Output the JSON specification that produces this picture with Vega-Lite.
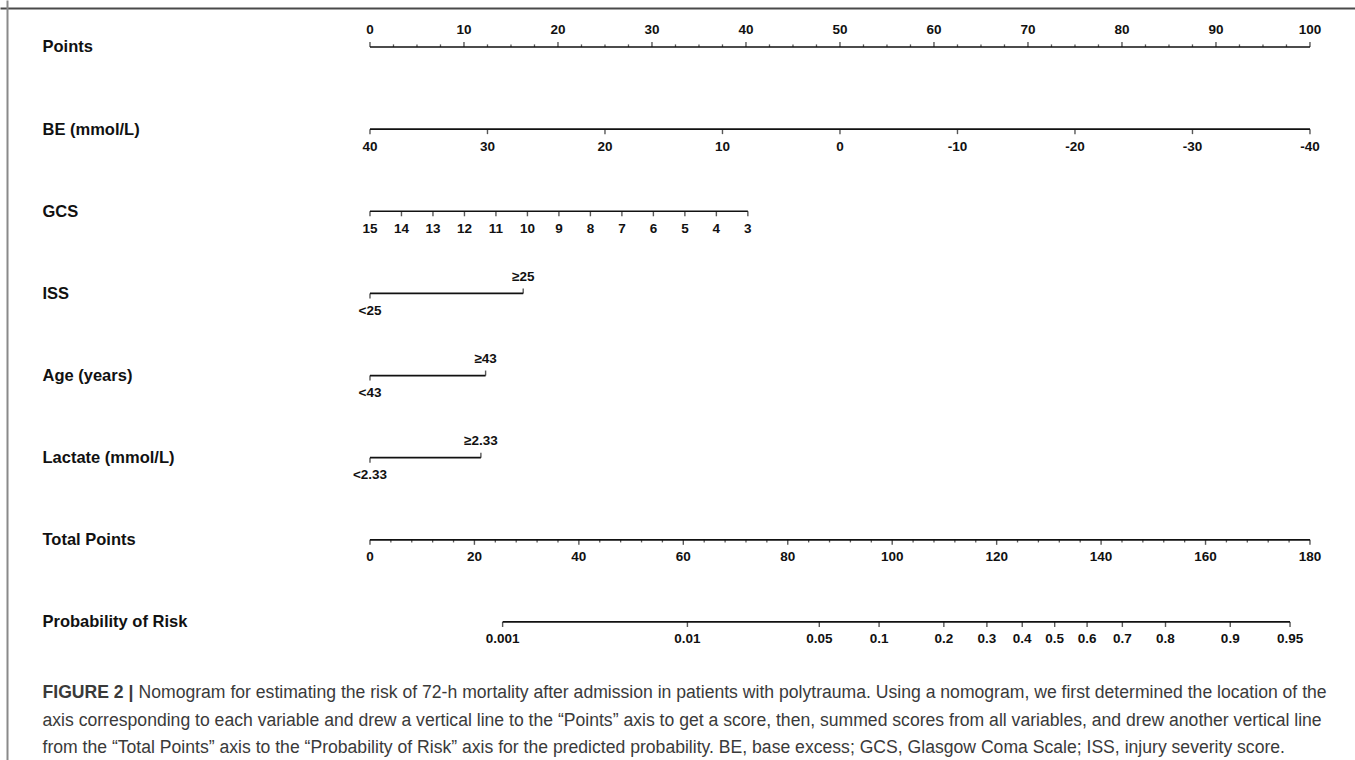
{
  "$schema": "https://vega.github.io/schema/vega-lite/v6.json",
  "width": 1355,
  "height": 760,
  "autosize": {"type": "none"},
  "padding": 0,
  "background": "white",
  "config": {"view": {"stroke": null}},
  "datasets": {
    "lines": [
      {"row": "Points", "from": 0, "to": 100},
      {"row": "BE (mmol/L)", "from": 0, "to": 100},
      {"row": "GCS", "from": 0, "to": 40.2},
      {"row": "ISS", "from": 0, "to": 16.3},
      {"row": "Age (years)", "from": 0, "to": 12.3},
      {"row": "Lactate (mmol/L)", "from": 0, "to": 11.8},
      {"row": "Total Points", "from": 0, "to": 100},
      {"row": "Probability of Risk", "from": 14.11, "to": 97.88}
    ],
    "labeled": [
      {"row": "Points", "label": "0", "pts": 0},
      {"row": "Points", "label": "10", "pts": 10},
      {"row": "Points", "label": "20", "pts": 20},
      {"row": "Points", "label": "30", "pts": 30},
      {"row": "Points", "label": "40", "pts": 40},
      {"row": "Points", "label": "50", "pts": 50},
      {"row": "Points", "label": "60", "pts": 60},
      {"row": "Points", "label": "70", "pts": 70},
      {"row": "Points", "label": "80", "pts": 80},
      {"row": "Points", "label": "90", "pts": 90},
      {"row": "Points", "label": "100", "pts": 100},
      {"row": "BE (mmol/L)", "label": "40", "pts": 0},
      {"row": "BE (mmol/L)", "label": "30", "pts": 12.5},
      {"row": "BE (mmol/L)", "label": "20", "pts": 25},
      {"row": "BE (mmol/L)", "label": "10", "pts": 37.5},
      {"row": "BE (mmol/L)", "label": "0", "pts": 50},
      {"row": "BE (mmol/L)", "label": "-10", "pts": 62.5},
      {"row": "BE (mmol/L)", "label": "-20", "pts": 75},
      {"row": "BE (mmol/L)", "label": "-30", "pts": 87.5},
      {"row": "BE (mmol/L)", "label": "-40", "pts": 100},
      {"row": "GCS", "label": "15", "pts": 0},
      {"row": "GCS", "label": "14", "pts": 3.35},
      {"row": "GCS", "label": "13", "pts": 6.7},
      {"row": "GCS", "label": "12", "pts": 10.05},
      {"row": "GCS", "label": "11", "pts": 13.4},
      {"row": "GCS", "label": "10", "pts": 16.75},
      {"row": "GCS", "label": "9", "pts": 20.1},
      {"row": "GCS", "label": "8", "pts": 23.45},
      {"row": "GCS", "label": "7", "pts": 26.8},
      {"row": "GCS", "label": "6", "pts": 30.15},
      {"row": "GCS", "label": "5", "pts": 33.5},
      {"row": "GCS", "label": "4", "pts": 36.85},
      {"row": "GCS", "label": "3", "pts": 40.2},
      {"row": "ISS", "label": "<25", "pts": 0},
      {"row": "ISS", "label": "≥25", "pts": 16.3},
      {"row": "Age (years)", "label": "<43", "pts": 0},
      {"row": "Age (years)", "label": "≥43", "pts": 12.3},
      {"row": "Lactate (mmol/L)", "label": "<2.33", "pts": 0},
      {"row": "Lactate (mmol/L)", "label": "≥2.33", "pts": 11.8},
      {"row": "Total Points", "label": "0", "pts": 0},
      {"row": "Total Points", "label": "20", "pts": 11.111},
      {"row": "Total Points", "label": "40", "pts": 22.222},
      {"row": "Total Points", "label": "60", "pts": 33.333},
      {"row": "Total Points", "label": "80", "pts": 44.444},
      {"row": "Total Points", "label": "100", "pts": 55.556},
      {"row": "Total Points", "label": "120", "pts": 66.667},
      {"row": "Total Points", "label": "140", "pts": 77.778},
      {"row": "Total Points", "label": "160", "pts": 88.889},
      {"row": "Total Points", "label": "180", "pts": 100},
      {"row": "Probability of Risk", "label": "0.001", "pts": 14.11},
      {"row": "Probability of Risk", "label": "0.01", "pts": 33.77},
      {"row": "Probability of Risk", "label": "0.05", "pts": 47.8},
      {"row": "Probability of Risk", "label": "0.1", "pts": 54.16},
      {"row": "Probability of Risk", "label": "0.2", "pts": 61.05},
      {"row": "Probability of Risk", "label": "0.3", "pts": 65.63},
      {"row": "Probability of Risk", "label": "0.4", "pts": 69.39},
      {"row": "Probability of Risk", "label": "0.5", "pts": 72.84},
      {"row": "Probability of Risk", "label": "0.6", "pts": 76.29},
      {"row": "Probability of Risk", "label": "0.7", "pts": 80.04},
      {"row": "Probability of Risk", "label": "0.8", "pts": 84.63},
      {"row": "Probability of Risk", "label": "0.9", "pts": 91.52},
      {"row": "Probability of Risk", "label": "0.95", "pts": 97.88}
    ],
    "minor": [
      {"row": "Points", "pts": 2.5}, {"row": "Points", "pts": 5}, {"row": "Points", "pts": 7.5},
      {"row": "Points", "pts": 12.5}, {"row": "Points", "pts": 15}, {"row": "Points", "pts": 17.5},
      {"row": "Points", "pts": 22.5}, {"row": "Points", "pts": 25}, {"row": "Points", "pts": 27.5},
      {"row": "Points", "pts": 32.5}, {"row": "Points", "pts": 35}, {"row": "Points", "pts": 37.5},
      {"row": "Points", "pts": 42.5}, {"row": "Points", "pts": 45}, {"row": "Points", "pts": 47.5},
      {"row": "Points", "pts": 52.5}, {"row": "Points", "pts": 55}, {"row": "Points", "pts": 57.5},
      {"row": "Points", "pts": 62.5}, {"row": "Points", "pts": 65}, {"row": "Points", "pts": 67.5},
      {"row": "Points", "pts": 72.5}, {"row": "Points", "pts": 75}, {"row": "Points", "pts": 77.5},
      {"row": "Points", "pts": 82.5}, {"row": "Points", "pts": 85}, {"row": "Points", "pts": 87.5},
      {"row": "Points", "pts": 92.5}, {"row": "Points", "pts": 95}, {"row": "Points", "pts": 97.5},
      {"row": "Total Points", "pts": 2.222}, {"row": "Total Points", "pts": 4.444}, {"row": "Total Points", "pts": 6.667}, {"row": "Total Points", "pts": 8.889},
      {"row": "Total Points", "pts": 13.333}, {"row": "Total Points", "pts": 15.556}, {"row": "Total Points", "pts": 17.778}, {"row": "Total Points", "pts": 20},
      {"row": "Total Points", "pts": 24.444}, {"row": "Total Points", "pts": 26.667}, {"row": "Total Points", "pts": 28.889}, {"row": "Total Points", "pts": 31.111},
      {"row": "Total Points", "pts": 35.556}, {"row": "Total Points", "pts": 37.778}, {"row": "Total Points", "pts": 40}, {"row": "Total Points", "pts": 42.222},
      {"row": "Total Points", "pts": 46.667}, {"row": "Total Points", "pts": 48.889}, {"row": "Total Points", "pts": 51.111}, {"row": "Total Points", "pts": 53.333},
      {"row": "Total Points", "pts": 57.778}, {"row": "Total Points", "pts": 60}, {"row": "Total Points", "pts": 62.222}, {"row": "Total Points", "pts": 64.444},
      {"row": "Total Points", "pts": 68.889}, {"row": "Total Points", "pts": 71.111}, {"row": "Total Points", "pts": 73.333}, {"row": "Total Points", "pts": 75.556},
      {"row": "Total Points", "pts": 80}, {"row": "Total Points", "pts": 82.222}, {"row": "Total Points", "pts": 84.444}, {"row": "Total Points", "pts": 86.667},
      {"row": "Total Points", "pts": 91.111}, {"row": "Total Points", "pts": 93.333}, {"row": "Total Points", "pts": 95.556}, {"row": "Total Points", "pts": 97.778}
    ]
  },
  "encoding": {
    "x": {"field": "pts", "type": "quantitative", "scale": {"domain": [-39.36, 104.79], "nice": false, "zero": false}, "axis": null},
    "y": {"field": "row", "type": "nominal", "axis": null,
      "scale": {"type": "point", "padding": 0.2575, "align": 0.84,
        "domain": ["_a", "_b", "_c", "Points", "_1", "_2", "_3", "_4", "_5", "BE (mmol/L)", "_6", "_7", "_8", "_9", "_10", "GCS", "_11", "_12", "_13", "_14", "_15", "ISS", "_16", "_17", "_18", "_19", "_20", "Age (years)", "_21", "_22", "_23", "_24", "_25", "Lactate (mmol/L)", "_26", "_27", "_28", "_29", "_30", "Total Points", "_31", "_32", "_33", "_34", "_35", "Probability of Risk", "_36", "_37", "_38", "_39", "cap1", "_40", "cap2", "_41", "cap3", "_d"]}}
  },
  "layer": [
    {
      "data": {"name": "lines"},
      "mark": {"type": "rule", "color": "#111111", "strokeWidth": 1.7},
      "encoding": {
        "x": {"field": "from", "type": "quantitative", "scale": {"domain": [-39.36, 104.79], "nice": false, "zero": false},
          "axis": {"orient": "top", "offset": -8, "domain": true, "domainColor": "#4a4a4a", "domainWidth": 2, "ticks": false, "labels": false, "grid": false, "title": null, "minExtent": 0, "maxExtent": 0}},
        "x2": {"field": "to"},
        "y": {"field": "row", "type": "nominal",
          "scale": {"type": "point", "padding": 0.2575, "align": 0.84,
            "domain": ["_a", "_b", "_c", "Points", "_1", "_2", "_3", "_4", "_5", "BE (mmol/L)", "_6", "_7", "_8", "_9", "_10", "GCS", "_11", "_12", "_13", "_14", "_15", "ISS", "_16", "_17", "_18", "_19", "_20", "Age (years)", "_21", "_22", "_23", "_24", "_25", "Lactate (mmol/L)", "_26", "_27", "_28", "_29", "_30", "Total Points", "_31", "_32", "_33", "_34", "_35", "Probability of Risk", "_36", "_37", "_38", "_39", "cap1", "_40", "cap2", "_41", "cap3", "_d"]},
          "axis": {
            "orient": "left", "offset": -7, "domain": true, "domainColor": "#8a8a8a", "domainWidth": 2,
            "ticks": false, "tickSize": 0, "grid": false, "title": null,
            "labelAlign": "left", "labelBaseline": "middle", "labelPadding": -35, "labelLimit": 2000, "labelOverlap": false,
            "labelFont": "Liberation Sans",
            "labelOffset": {"condition": {"test": "indexof(datum.value, 'cap') == 0", "value": 2.5}, "value": 0},
            "labelFontWeight": {"condition": {"test": "datum.value == 'cap2' || datum.value == 'cap3'", "value": "normal"}, "value": "bold"},
            "labelFontSize": {"condition": {"test": "indexof(datum.value, 'cap') == 0", "value": 17.6}, "value": 16.5},
            "labelColor": {"condition": {"test": "indexof(datum.value, 'cap') == 0", "value": "#3a3a3a"}, "value": "#111111"},
            "labelExpr": "datum.value == 'cap1' ? 'FIGURE 2 |' : datum.value == 'cap2' ? 'axis corresponding to each variable and drew a vertical line to the “Points” axis to get a score, then, summed scores from all variables, and drew another vertical line' : datum.value == 'cap3' ? 'from the “Total Points” axis to the “Probability of Risk” axis for the predicted probability. BE, base excess; GCS, Glasgow Coma Scale; ISS, injury severity score.' : indexof(datum.value, '_') == 0 ? '' : datum.value",
            "minExtent": 0, "maxExtent": 0
          }
        }
      }
    },
    {
      "data": {"name": "labeled"},
      "transform": [{"filter": "datum.row == 'Points' || indexof(datum.label, '≥') == 0"}],
      "mark": {"type": "tick", "orient": "vertical", "color": "#111111", "size": 5, "thickness": 1.4, "yOffset": -2.5}
    },
    {
      "data": {"name": "labeled"},
      "transform": [{"filter": "!(datum.row == 'Points' || indexof(datum.label, '≥') == 0)"}],
      "mark": {"type": "tick", "orient": "vertical", "color": "#111111", "size": 5, "thickness": 1.4, "yOffset": 2.5}
    },
    {
      "data": {"name": "minor"},
      "transform": [{"filter": "datum.row == 'Points'"}],
      "mark": {"type": "tick", "orient": "vertical", "color": "#111111", "size": 2.6, "thickness": 1.3, "yOffset": -1.3}
    },
    {
      "data": {"name": "minor"},
      "transform": [{"filter": "datum.row == 'Total Points'"}],
      "mark": {"type": "tick", "orient": "vertical", "color": "#111111", "size": 2.6, "thickness": 1.3, "yOffset": 1.3}
    },
    {
      "data": {"name": "labeled"},
      "transform": [{"filter": "datum.row == 'Points' || indexof(datum.label, '≥') == 0"}],
      "mark": {"type": "text", "font": "Liberation Sans", "fontWeight": "bold", "fontSize": 13.5, "color": "#111111", "align": "center", "baseline": "middle", "dy": -16.5},
      "encoding": {"text": {"field": "label"}}
    },
    {
      "data": {"name": "labeled"},
      "transform": [{"filter": "!(datum.row == 'Points' || indexof(datum.label, '≥') == 0)"}],
      "mark": {"type": "text", "font": "Liberation Sans", "fontWeight": "bold", "fontSize": 13.5, "color": "#111111", "align": "center", "baseline": "middle", "dy": 17.5},
      "encoding": {
        "text": {"field": "label"},
        "y": {"field": "row", "type": "nominal",
          "scale": {"type": "point", "padding": 0.2575, "align": 0.84,
            "domain": ["_a", "_b", "_c", "Points", "_1", "_2", "_3", "_4", "_5", "BE (mmol/L)", "_6", "_7", "_8", "_9", "_10", "GCS", "_11", "_12", "_13", "_14", "_15", "ISS", "_16", "_17", "_18", "_19", "_20", "Age (years)", "_21", "_22", "_23", "_24", "_25", "Lactate (mmol/L)", "_26", "_27", "_28", "_29", "_30", "Total Points", "_31", "_32", "_33", "_34", "_35", "Probability of Risk", "_36", "_37", "_38", "_39", "cap1", "_40", "cap2", "_41", "cap3", "_d"]},
          "axis": {
            "orient": "right", "domain": false, "ticks": false, "tickSize": 0, "grid": false, "title": null,
            "labelAlign": "left", "labelBaseline": "middle", "labelPadding": -1217, "labelLimit": 2000, "labelOverlap": false,
            "labelOffset": 2.5,
            "labelFont": "Liberation Sans", "labelFontWeight": "normal", "labelFontSize": 17.6, "labelColor": "#3a3a3a",
            "labelExpr": "datum.value == 'cap1' ? 'Nomogram for estimating the risk of 72-h mortality after admission in patients with polytrauma. Using a nomogram, we first determined the location of the' : ''",
            "minExtent": 0, "maxExtent": 0
          }
        }
      }
    }
  ],
  "resolve": {"axis": {"x": "independent", "y": "independent"}}
}
